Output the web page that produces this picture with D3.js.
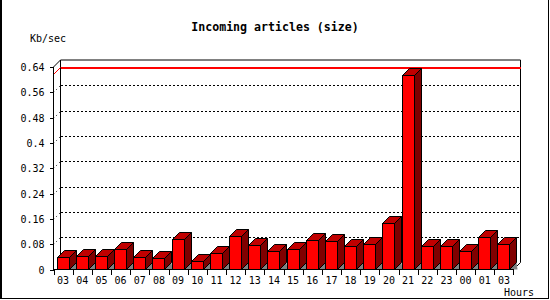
<!DOCTYPE html>
<html>
<head>
<meta charset="utf-8">
<script src="https://cdn.jsdelivr.net/npm/d3@7"></script>
<style>
  body { margin: 0; background: #fff; }
  svg { display: block; }
  text { font-family: "DejaVu Sans Mono", monospace; fill: #000; }
</style>
</head>
<body>
<div id="chart"></div>
<script>
// Data
const hours = ["03", "04", "05", "06", "07", "08", "09", "10", "11", "12", "13", "14",
               "15", "16", "17", "18", "19", "20", "21", "22", "23", "00", "01", "03"];
const kbPerSec = [0.038, 0.044, 0.044, 0.066, 0.038, 0.035, 0.096, 0.026, 0.051, 0.107, 0.076, 0.058,
                  0.066, 0.092, 0.089, 0.073, 0.082, 0.148, 0.614, 0.073, 0.073, 0.057, 0.104, 0.082];
const yTicks = [0, 0.08, 0.16, 0.24, 0.32, 0.4, 0.48, 0.56, 0.64];

const width = 550, height = 300;
const depth = 7;            // 3d offset of the back wall
const plotLeft = 53.5, plotRight = 513.5, plotBottom = 269.5, plotTop = 67;

const svg = d3.select("#chart")
    .append("svg")
    .attr("width", width)
    .attr("height", height)
    .attr("shape-rendering", "crispEdges");

// outer frame (left, right, bottom)
svg.append("path")
    .attr("d", `M1,0 V298.5 H548.5 V0`)
    .attr("fill", "none")
    .attr("stroke", "#000")
    .attr("stroke-width", 1);
svg.append("line").attr("x1", 0.5).attr("x2", 0.5).attr("y1", 0).attr("y2", 299)
    .attr("stroke", "#000");

// scales
const x = d3.scaleBand()
    .domain(d3.range(hours.length))
    .range([plotLeft, plotRight])
    .padding(0);

const y = d3.scaleLinear()
    .domain([0, 0.64])
    .range([plotBottom, plotTop]);

// back wall gridlines
const grid = svg.append("g");
yTicks.filter(t => t > 0 && t < 0.64).forEach(t => {
    const yy = Math.round(y(t)) - depth + 0.5;
    grid.append("line")
        .attr("x1", 61).attr("x2", 521)
        .attr("y1", yy).attr("y2", yy)
        .attr("stroke", "#000")
        .attr("stroke-dasharray", "2,2");
    grid.append("line")
        .attr("x1", plotLeft).attr("x2", plotLeft + depth)
        .attr("y1", yy + depth).attr("y2", yy)
        .attr("stroke", "#000")
        .attr("shape-rendering", "auto")
        .attr("stroke-dasharray", "1,3");
});

// back wall frame + floor
svg.append("path")
    .attr("d", `M${plotLeft},${plotTop} L${plotLeft + depth},${plotTop - depth} H${plotRight + depth} V${plotBottom - depth} L${plotRight},${plotBottom}`)
    .attr("fill", "none")
    .attr("shape-rendering", "auto")
    .attr("stroke", "#000");
svg.append("line")
    .attr("x1", plotLeft + depth).attr("x2", plotLeft + depth)
    .attr("y1", plotTop - depth).attr("y2", plotBottom - depth)
    .attr("stroke", "#000");

// max line (red, on the back wall)
const maxV = d3.max(kbPerSec);
const ym = Math.round(y(maxV)) - depth - 1;
svg.append("rect")
    .attr("x", 61).attr("y", ym)
    .attr("width", 460).attr("height", 2)
    .attr("fill", "#ff0000");
svg.append("line")
    .attr("x1", plotLeft).attr("x2", plotLeft + depth)
    .attr("y1", ym + 0.5 + depth).attr("y2", ym + 0.5)
    .attr("shape-rendering", "auto")
    .attr("stroke", "#ff0000");

// bars
const barW = 11.5;
const bars = svg.append("g")
    .attr("stroke", "#000")
    .attr("stroke-width", 1)
    .attr("shape-rendering", "auto")
    .attr("stroke-linejoin", "miter");

kbPerSec.forEach((v, i) => {
    const x0 = Math.round(x(i) + 3) + 0.5;
    const x1 = x0 + Math.round(barW);
    const y0 = plotBottom;
    const y1 = Math.round(y(v)) + 0.5;
    const g = bars.append("g");
    // floor shadow
    g.append("path")
        .attr("d", `M${x1},${y0} L${x1 + depth},${y0 - depth} L${x1 + depth + 1},${y0} Z`)
        .attr("fill", "#808080")
        .attr("stroke", "none");
    // side
    g.append("path")
        .attr("d", `M${x1},${y0} L${x1 + depth},${y0 - depth} V${y1 - depth} L${x1},${y1} Z`)
        .attr("fill", "#800000");
    // top
    g.append("path")
        .attr("d", `M${x0},${y1} L${x0 + depth},${y1 - depth} H${x1 + depth} L${x1},${y1} Z`)
        .attr("fill", "#c00000");
    // front
    g.append("rect")
        .attr("x", x0).attr("y", y1)
        .attr("width", x1 - x0).attr("height", y0 - y1)
        .attr("fill", "#ff0000");
});

// front y axis
svg.append("line")
    .attr("x1", plotLeft).attr("x2", plotLeft)
    .attr("y1", plotTop).attr("y2", plotBottom)
    .attr("stroke", "#000");

const yAxis = svg.append("g");
yTicks.forEach(t => {
    const yy = Math.round(y(t)) + 0.5;
    yAxis.append("line")
        .attr("x1", plotLeft - 4).attr("x2", plotLeft)
        .attr("y1", yy).attr("y2", yy)
        .attr("stroke", "#000");
    yAxis.append("text")
        .attr("x", plotLeft - 9).attr("y", yy + 3.5)
        .attr("text-anchor", "end")
        .style("font-size", "10px")
        .text(t === 0 ? "0" : String(t));
});

// front x axis
svg.append("line")
    .attr("x1", plotLeft).attr("x2", plotRight)
    .attr("y1", plotBottom).attr("y2", plotBottom)
    .attr("stroke", "#000");

const xAxis = svg.append("g");
hours.forEach((h, i) => {
    const xx = Math.round(x(i)) + 0.5;
    xAxis.append("line")
        .attr("x1", xx).attr("x2", xx)
        .attr("y1", plotBottom).attr("y2", plotBottom + 5)
        .attr("stroke", "#000");
    xAxis.append("text")
        .attr("x", x(i) + x.bandwidth() / 2)
        .attr("y", 284)
        .attr("text-anchor", "middle")
        .style("font-size", "10px")
        .text(h);
});
xAxis.append("line")
    .attr("x1", plotRight).attr("x2", plotRight)
    .attr("y1", plotBottom).attr("y2", plotBottom + 5)
    .attr("stroke", "#000");

// titles
svg.append("text")
    .attr("x", 275).attr("y", 31)
    .attr("text-anchor", "middle")
    .style("font-size", "11.6px")
    .style("font-weight", "bold")
    .text("Incoming articles (size)");

svg.append("text")
    .attr("x", 30).attr("y", 42)
    .style("font-size", "10px")
    .text("Kb/sec");

svg.append("text")
    .attr("x", 504).attr("y", 296)
    .style("font-size", "10px")
    .text("Hours");
</script>
</body>
</html>
